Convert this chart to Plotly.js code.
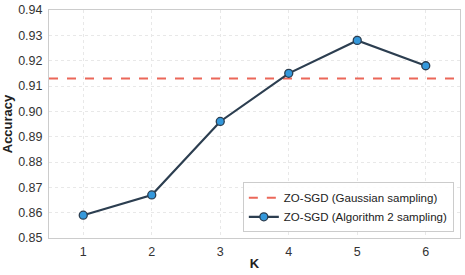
<!DOCTYPE html>
<html><head><meta charset="utf-8">
<script src="https://cdn.plot.ly/plotly-3.0.1.min.js"></script>
<style>html,body{margin:0;padding:0;background:#fff}#c{width:465px;height:275px}</style>
</head><body><div id="c"></div>
<script>
const kValues = [1, 2, 3, 4, 5, 6];
const accAlgo2 = [0.859, 0.867, 0.896, 0.915, 0.928, 0.918];
const accGaussian = 0.913;
const yTicks = [0.85, 0.86, 0.87, 0.88, 0.89, 0.90, 0.91, 0.92, 0.93, 0.94];
const xRange = [0.5, 6.5];

const traces = [
  {x: xRange, y: [accGaussian, accGaussian], mode: 'lines', name: 'ZO-SGD (Gaussian sampling)',
   line: {color: 'rgba(231,76,60,0.85)', width: 2, dash: 'dash'}},
  {x: kValues, y: accAlgo2, mode: 'lines+markers', name: 'ZO-SGD (Algorithm 2 sampling)',
   line: {color: '#2c3e50', width: 2.2},
   marker: {color: '#3498db', size: 8, line: {color: '#2c3e50', width: 1.3}}}
];
const layout = {
  width: 465, height: 275,
  margin: {l: 49, r: 5, t: 10, b: 37},
  paper_bgcolor: '#fff', plot_bgcolor: '#fff',
  font: {family: 'Liberation Sans, Arial, sans-serif', size: 12.5, color: '#333'},
  showlegend: true,
  legend: {x: 0.985, y: 0.025, xanchor: 'right', yanchor: 'bottom', bgcolor: 'rgba(255,255,255,0.9)',
    bordercolor: '#ccc', borderwidth: 1, font: {size: 11.5, color: '#222'}, tracegroupgap: 0, itemwidth: 30},
  xaxis: {range: xRange, tickvals: kValues, ticktext: kValues.map(String),
    title: {text: '<b>K</b>', font: {size: 13, color: '#222'}, standoff: 0},
    showgrid: true, gridcolor: '#e8e8e8', griddash: 'dot', zeroline: false,
    showline: true, linecolor: '#ccc', linewidth: 1, mirror: true, ticks: 'outside', ticklen: 2, tickcolor: 'rgba(0,0,0,0)'},
  yaxis: {range: [0.85, 0.94], tickvals: yTicks, ticktext: yTicks.map(v => v.toFixed(2)),
    title: {text: '<b>Accuracy</b>', font: {size: 13, color: '#222'}, standoff: 4},
    showgrid: true, gridcolor: '#e8e8e8', griddash: 'dot', zeroline: false,
    showline: true, linecolor: '#ccc', linewidth: 1, mirror: true, ticks: 'outside', ticklen: 3, tickcolor: 'rgba(0,0,0,0)'}
};
Plotly.newPlot('c', traces, layout, {displayModeBar: false, staticPlot: true});
</script></body></html>
